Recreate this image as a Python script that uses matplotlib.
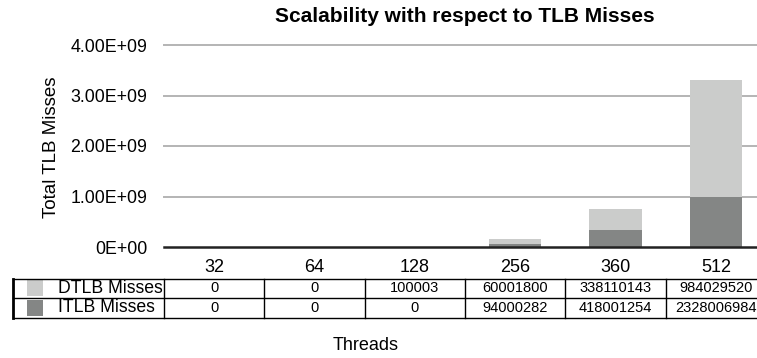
import matplotlib.pyplot as plt
import matplotlib.transforms as mtransforms
from matplotlib.lines import Line2D
from matplotlib.patches import Rectangle

plt.rcParams['font.family'] = ['Liberation Sans', 'DejaVu Sans']

threads = ['32', '64', '128', '256', '360', '512']
dtlb_misses = [0, 0, 100003, 60001800, 338110143, 984029520]
itlb_misses = [0, 0, 0, 94000282, 418001254, 2328006984]
yticks = [0, 1e9, 2e9, 3e9, 4e9]
ytick_labels = ['0E+00', '1.00E+09', '2.00E+09', '3.00E+09', '4.00E+09']

W, H = 757, 358
dark = '#848685'
light = '#cbcccb'


def fy(y):
    # pixel row (from top) -> figure fraction
    return 1 - y / H


fig = plt.figure(figsize=(W / 100, H / 100), dpi=100)
ax = fig.add_axes([164 / W, fy(247), 602 / W, (247 - 45) / H])

x = list(range(len(threads)))
ax.bar(x, dtlb_misses, width=0.52, color=dark, zorder=3)
ax.bar(x, itlb_misses, width=0.52, bottom=dtlb_misses, color=light, zorder=3)

ax.set_xlim(-0.5, len(threads) - 0.5)
ax.set_ylim(0, 4e9)
ax.set_yticks(yticks)
ax.set_yticklabels(ytick_labels, fontsize=12.8)
ax.set_xticks([])
ax.tick_params(axis='y', length=0, pad=12)
for s in ['top', 'right', 'left']:
    ax.spines[s].set_visible(False)
ax.spines['bottom'].set_color('#222222')
ax.spines['bottom'].set_linewidth(1.8)
ax.spines['bottom'].set_zorder(4)
for t in yticks[1:]:
    ax.axhline(t, color='#b4b4b4', lw=1.4, zorder=1, clip_on=False)

fig.text(465 / W, fy(17), 'Scalability with respect to TLB Misses',
         ha='center', va='center', fontsize=15, fontweight='bold')
fig.text(52 / W, fy(147), 'Total TLB Misses', rotation=90,
         ha='center', va='center', fontsize=13.5)
fig.text(366 / W, fy(345), 'Threads', ha='center', va='center', fontsize=13)

# data table under the chart
blend = mtransforms.blended_transform_factory(ax.transData, fig.transFigure)
for i, lab in enumerate(threads):
    fig.text(i, fy(267), lab, transform=blend, ha='center', va='center',
             fontsize=13)
    fig.text(i, fy(288.5), str(dtlb_misses[i]), transform=blend,
             ha='center', va='center', fontsize=10.5)
    fig.text(i, fy(308), str(itlb_misses[i]), transform=blend,
             ha='center', va='center', fontsize=10.5)

for yy in [279, 298, 318]:
    fig.add_artist(Line2D([13 / W, 1.05], [fy(yy), fy(yy)], color='black',
                          lw=1.0))
fig.add_artist(Line2D([13 / W, 13 / W], [fy(279), fy(318)], color='black',
                      lw=2.0))
for i in range(len(threads) + 1):
    fig.add_artist(Line2D([i - 0.5, i - 0.5], [fy(279), fy(318)],
                          transform=blend, color='black', lw=1.0))

fig.add_artist(Rectangle((27 / W, fy(296)), 16 / W, 16 / H,
                         transform=fig.transFigure, color=light, lw=0))
fig.add_artist(Rectangle((27 / W, fy(316)), 16 / W, 16 / H,
                         transform=fig.transFigure, color=dark, lw=0))
fig.text(58 / W, fy(288.5), 'DTLB Misses', ha='left', va='center',
         fontsize=12.7)
fig.text(58 / W, fy(308), 'ITLB Misses', ha='left', va='center',
         fontsize=12.7)

fig.savefig('out.png', dpi=100)
